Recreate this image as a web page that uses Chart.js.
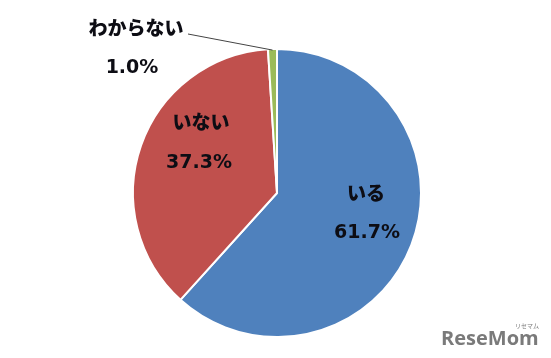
<!DOCTYPE html>
<html><head><meta charset="utf-8">
<script src="https://cdn.jsdelivr.net/npm/chart.js@4"></script>
<style>html,body{margin:0;padding:0;background:#fff;}#wrap{width:551px;height:358px;position:relative;}</style>
</head><body><div id="wrap"><canvas id="c" width="551" height="358"></canvas></div>
<script>
const categories = ["いる", "いない", "わからない"];
const values = [61.7, 37.3, 1.0];
const valueLabels = ["61.7%", "37.3%", "1.0%"];
const colors = ["#4F81BD", "#C0504D", "#9BBB59"];

const FONT = '"DejaVu Sans", "Noto Sans CJK JP", sans-serif';
// label offsets relative to pie centre (name line, value line)
const labelPos = [
  {n:[89,2], v:[90,40]},
  {n:[-76,-69], v:[-78,-30]},
  {n:[-141,-163], v:[-145,-125]}
];

const labelPlugin = {
  id: 'labels',
  afterDatasetsDraw(chart) {
    const ctx = chart.ctx;
    const arc0 = chart.getDatasetMeta(0).data[0];
    const cx = arc0.x, cy = arc0.y, r = arc0.outerRadius;
    ctx.save();
    ctx.fillStyle = '#0d0d14';
    ctx.font = '900 19px ' + FONT;
    ctx.textAlign = 'center';
    ctx.textBaseline = 'middle';
    categories.forEach((c, i) => {
      const p = labelPos[i];
      ctx.fillText(c, cx + p.n[0], cy + p.n[1]);
      ctx.fillText(valueLabels[i], cx + p.v[0], cy + p.v[1]);
    });
    // leader line for small slice
    const a = chart.getDatasetMeta(0).data[2];
    const mid = (a.startAngle + a.endAngle) / 2;
    ctx.strokeStyle = '#444';
    ctx.lineWidth = 1;
    ctx.beginPath();
    ctx.moveTo(cx - 89, cy - 159);
    ctx.lineTo(cx + Math.cos(mid) * (r - 1), cy + Math.sin(mid) * (r - 1));
    ctx.stroke();
    // watermark
    ctx.fillStyle = '#7a7a7a';
    ctx.font = 'bold 20px "Open Sans", "DejaVu Sans", sans-serif';
    ctx.textAlign = 'left';
    ctx.textBaseline = 'alphabetic';
    ctx.fillText('ReseMom', 441, 345);
    ctx.font = '6px "Noto Sans CJK JP", sans-serif';
    ctx.fillText('リセマム', 515, 328);
    ctx.restore();
  }
};

new Chart(document.getElementById('c'), {
  type: 'pie',
  data: {
    labels: categories,
    datasets: [{
      data: values,
      backgroundColor: colors,
      borderColor: '#ffffff',
      borderWidth: 2
    }]
  },
  options: {
    responsive: false,
    animation: false,
    layout: { padding: { top: 48, bottom: 20, left: 3, right: 0 } },
    plugins: { legend: { display: false }, tooltip: { enabled: false } }
  },
  plugins: [labelPlugin]
});
</script>
</body></html>
